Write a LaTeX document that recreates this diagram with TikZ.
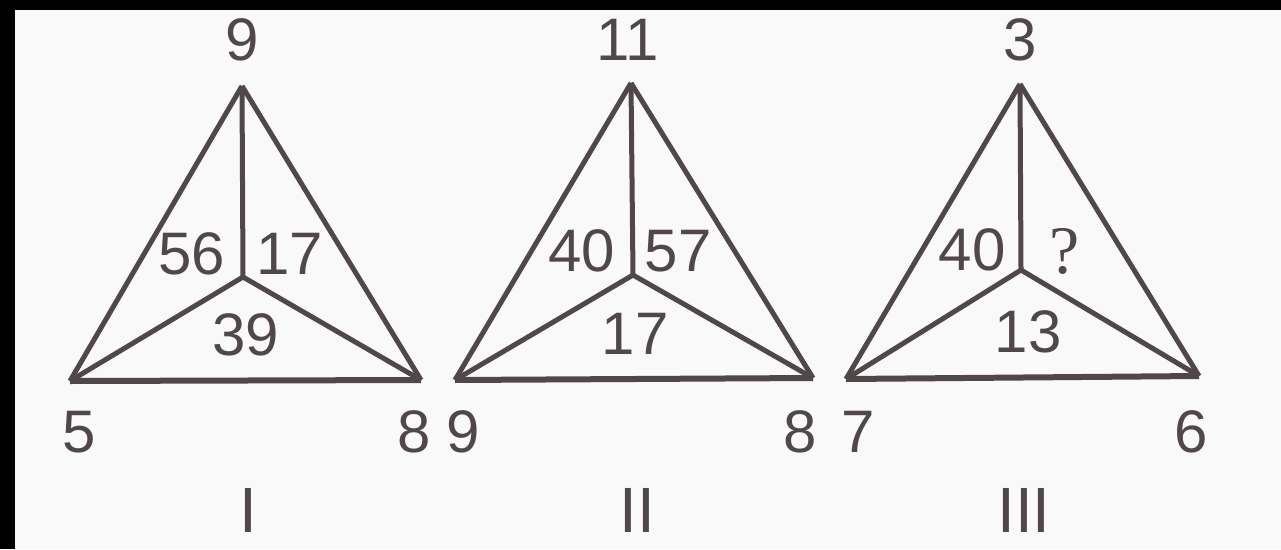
\documentclass[tikz,border=0pt]{standalone}
\usepackage{fontspec}
\setmainfont{Liberation Sans}
\newfontfamily\qfont{Liberation Serif}
\definecolor{inkC}{RGB}{80,72,72}
\definecolor{paperC}{RGB}{250,249,249}

\begin{document}
\begin{tikzpicture}[
  edge/.style={line width=5pt, draw=inkC, line join=miter},
  baseedge/.style={line width=6pt, draw=inkC, line join=miter},
  num/.style={font=\fontsize{60}{60}\selectfont, text=inkC, inner sep=0pt},
  qmark/.style={font=\qfont\fontsize{68}{68}\selectfont, text=inkC, inner sep=0pt},
  roman/.style={font=\fontsize{64}{64}\selectfont, text=inkC, inner sep=0pt},
  x=1pt, y=-1pt  % image pixel scale (1281x549), y runs downwards
]

% ---------- paper and scan frame ----------
\useasboundingbox (0,0) rectangle (1281,549);
\fill[paperC] (0,0) rectangle (1281,549);
\fill[black] (0,0) rectangle (1281,10);
\fill[black] (0,0) rectangle (15,549);

% ============ Figure I ============
\coordinate (a1) at (242,86);
\coordinate (l1) at (70,381);
\coordinate (r1) at (421,380);
\coordinate (c1) at (243,277);
\draw[edge] (a1) -- (l1);
\draw[edge] (a1) -- (r1);
\draw[baseedge] (l1) -- (r1);
\draw[edge] (c1) -- (a1);
\draw[edge] (c1) -- (l1);
\draw[edge] (c1) -- (r1);
\node[num] (top1) at (242,40) {9};
\node[num] (left1) at (79,432) {5};
\node[num] (right1) at (414,432) {8};
\node[num] (in1a) at (192,254) {56};
\node[num] (in1b) at (290,254) {17};
\node[num] (in1c) at (246,335) {39};
\node[roman] (name1) at (248.5,510) {I};

% ============ Figure II ============
\coordinate (a2) at (631,83);
\coordinate (l2) at (455,380);
\coordinate (r2) at (813,378);
\coordinate (c2) at (633,275);
\draw[edge] (a2) -- (l2);
\draw[edge] (a2) -- (r2);
\draw[baseedge] (l2) -- (r2);
\draw[edge] (c2) -- (a2);
\draw[edge] (c2) -- (l2);
\draw[edge] (c2) -- (r2);
\node[num] (top2) at (628,40) {11};
\node[num] (left2) at (463,432) {9};
\node[num] (right2) at (800,432) {8};
\node[num] (in2a) at (582,251) {40};
\node[num] (in2b) at (678,251) {57};
\node[num] (in2c) at (635,334) {17};
\node[roman] (name2) at (637,510) {II};

% ============ Figure III ============
\coordinate (a3) at (1020,84);
\coordinate (l3) at (846,379);
\coordinate (r3) at (1199,376);
\coordinate (c3) at (1021,270);
\draw[edge] (a3) -- (l3);
\draw[edge] (a3) -- (r3);
\draw[baseedge] (l3) -- (r3);
\draw[edge] (c3) -- (a3);
\draw[edge] (c3) -- (l3);
\draw[edge] (c3) -- (r3);
\node[num] (top3) at (1020.5,40) {3};
\node[num] (left3) at (858,432) {7};
\node[num] (right3) at (1191,432) {6};
\node[num] (in3a) at (972,250) {40};
\node[qmark] (in3b) at (1065,251) {?};
\node[num] (in3c) at (1028,332) {13};
\node[roman] (name3) at (1024,510) {III};

\end{tikzpicture}
\end{document}
